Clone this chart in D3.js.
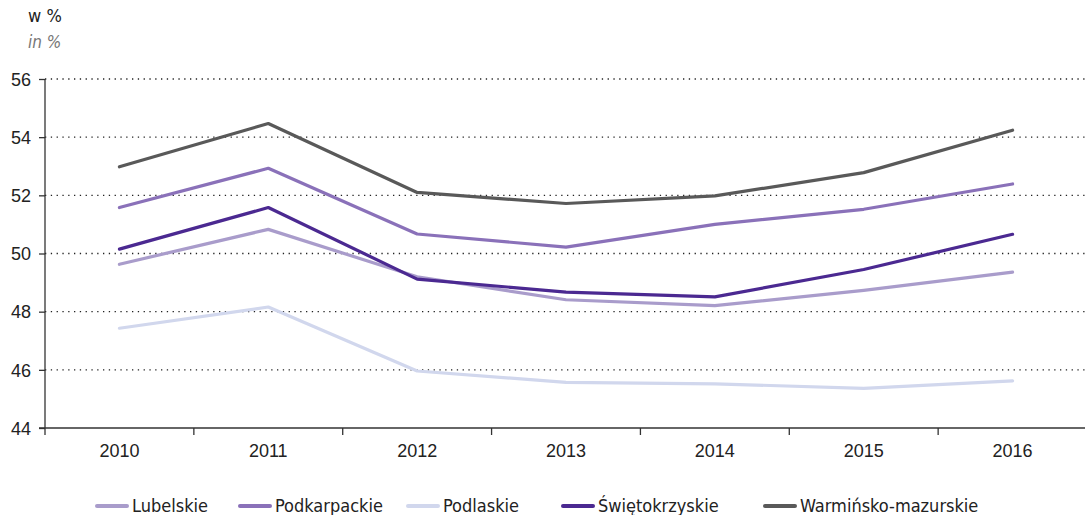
<!DOCTYPE html>
<html><head><meta charset="utf-8">
<script src="https://cdn.jsdelivr.net/npm/d3@7"></script>
<style>
body{margin:0;background:#fff;}
svg{font-family:"Liberation Sans Narrow","DejaVu Sans Condensed",sans-serif;}
</style></head><body>
<svg id="c" width="1085" height="515"></svg>
<script>
const years = ["2010","2011","2012","2013","2014","2015","2016"];
const yTicks = [44,46,48,50,52,54,56];
const seriesNames = ["Lubelskie","Podkarpackie","Podlaskie","Świętokrzyskie","Warmińsko-mazurskie"];
const lubelskie = [49.63,50.83,49.2,48.41,48.21,48.73,49.36];
const podkarpackie = [51.58,52.93,50.67,50.22,51.0,51.52,52.39];
const podlaskie = [47.43,48.16,45.96,45.57,45.52,45.36,45.62];
const swietokrzyskie = [50.15,51.58,49.12,48.67,48.51,49.45,50.66];
const warminsko = [52.98,54.47,52.1,51.72,51.98,52.78,54.24];
const colors = ["#a99ccb","#8a71b9","#d1d7ed","#4b2991","#595959"];

const seriesVals = [lubelskie,podkarpackie,podlaskie,swietokrzyskie,warminsko];
const svg = d3.select("#c");
const mLeft=45, mRight=1087, mTop=79, mBottom=428;
const x = d3.scaleBand().domain(years).range([mLeft,mRight]);
const y = d3.scaleLinear().domain([44,56]).range([mBottom,mTop]);

// gridlines
svg.append("g").selectAll("line").data(yTicks.filter(t=>t>44)).join("line")
  .attr("x1",mLeft).attr("x2",1085).attr("y1",d=>y(d)).attr("y2",d=>y(d))
  .attr("stroke","#222").attr("stroke-width",1.3).attr("stroke-dasharray","1.3,4.5");

// y axis
const ya = svg.append("g").attr("transform",`translate(${mLeft},0)`)
  .call(d3.axisLeft(y).tickValues(yTicks).tickSize(6).tickPadding(8));
ya.select(".domain").attr("stroke","#333").attr("stroke-width",1.3).attr("d",`M0,${mTop}V${mBottom}`);
ya.selectAll(".tick line").attr("stroke","#333").attr("stroke-width",1.3);
ya.selectAll("text").attr("font-size",18).attr("fill","#222").attr("dy","0.35em");

// x axis
const xa = svg.append("g").attr("transform",`translate(0,${mBottom})`)
  .call(d3.axisBottom(x).tickSize(0).tickPadding(16));
xa.select(".domain").attr("stroke","#333").attr("stroke-width",1.3).attr("d",`M${mLeft-6},0H1085`);
xa.selectAll("text").attr("font-size",18).attr("fill","#222");
svg.append("g").selectAll("line").data(years).join("line")
  .attr("x1",d=>x(d)).attr("x2",d=>x(d)).attr("y1",mBottom).attr("y2",mBottom+7)
  .attr("stroke","#333").attr("stroke-width",1.3);

// lines
const line = d3.line().x((d,i)=>x(years[i])+x.bandwidth()/2).y(d=>y(d));
seriesVals.forEach((vals,i)=>{
  svg.append("path").datum(vals).attr("d",line).attr("fill","none")
    .attr("stroke",colors[i]).attr("stroke-width",3.2).attr("stroke-linejoin","round").attr("stroke-linecap","round");
});

// unit labels
svg.append("text").attr("x",28).attr("y",22).attr("font-size",18).attr("fill","#222").text("w %");
svg.append("text").attr("x",28).attr("y",48).attr("font-size",17).attr("fill","#777").attr("font-style","italic").text("in %");

// legend
const legX = [97,240,408,563,765];
const lg = svg.append("g");
seriesNames.forEach((n,i)=>{
  lg.append("line").attr("x1",legX[i]).attr("x2",legX[i]+30).attr("y1",506).attr("y2",506)
    .attr("stroke",colors[i]).attr("stroke-width",4).attr("stroke-linecap","round");
  lg.append("text").attr("x",legX[i]+35).attr("y",512).attr("font-size",18).attr("fill","#222").text(n);
});
</script>
</body></html>
